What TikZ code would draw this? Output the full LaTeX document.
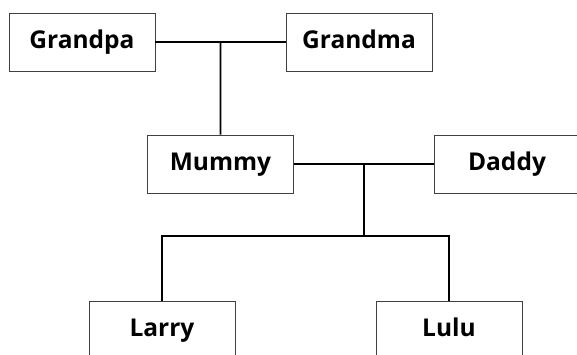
\documentclass[tikz,border=0pt]{standalone}
\usepackage{fontspec}
\setmainfont{Open Sans}
\usepackage{tikz}
\usetikzlibrary{calc}

\begin{document}
\begin{tikzpicture}[x=1pt, y=-1pt,
    person/.style={draw=black!75, line width=0.9pt, minimum width=146pt, minimum height=58pt, inner sep=0pt, text height=17pt, text depth=3.6pt, font=\fontsize{24.5}{28}\selectfont\bfseries},
    link/.style={line width=1.8pt}]
      \useasboundingbox (0, 0) rectangle (577, 354);
      % grandparents
      \node[person] (grandpa) at (82, 42) {Grandpa};
      \node[person] (grandma) at (359, 42) {Grandma};
      % parents
      \node[person] (mummy) at (220.5, 164) {Mummy};
      \node[person] (daddy) at (507, 164) {Daddy};
      % children
      \node[person] (larry) at (162, 330) {Larry};
      \node[person] (lulu) at (449, 330) {Lulu};
      \coordinate (gmid) at ($(grandpa.east)!0.5!(grandma.west)$);
      \coordinate (pmid) at ($(mummy.east)!0.5!(daddy.west)$);
      \coordinate (kids) at ($(pmid) + (0, 72)$);
      \draw[link] (grandpa.east) -- (grandma.west);
      \draw[link] (gmid) -- (mummy.north);
      \draw[link] (mummy.east) -- (daddy.west);
      \draw[link] (pmid) -- (kids);
      \draw[link] (larry.north) |- (kids) -| (lulu.north);
    \end{tikzpicture}
\end{document}
